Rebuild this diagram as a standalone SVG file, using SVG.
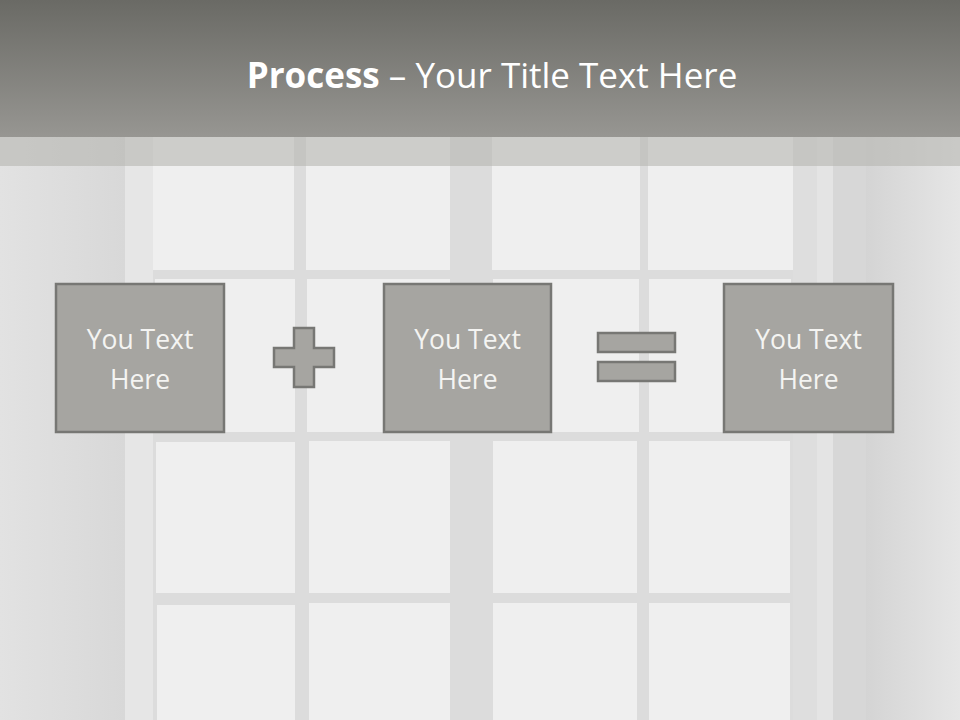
<svg xmlns="http://www.w3.org/2000/svg" width="960" height="720" viewBox="0 0 960 720">
<defs>
<linearGradient id="hdr" x1="0" y1="0" x2="0" y2="1">
<stop offset="0" stop-color="#6a6a65"/>
<stop offset="1" stop-color="#979692"/>
</linearGradient>
<linearGradient id="wallL" x1="0" y1="0" x2="1" y2="0">
<stop offset="0" stop-color="#e2e2e2"/>
<stop offset="1" stop-color="#d8d8d8"/>
</linearGradient>
<linearGradient id="wallR" x1="0" y1="0" x2="1" y2="0">
<stop offset="0" stop-color="#d4d4d4"/>
<stop offset="1" stop-color="#e6e6e6"/>
</linearGradient>
<style>
.pane{fill:#efefef}
.box{fill:#a6a5a1;stroke:#777774;stroke-width:2.5}
.lbl{font-family:"Open Sans","Liberation Sans",sans-serif;font-size:26.5px;fill:#f4f4f2;text-anchor:middle}
</style>
</defs>
<g id="background">
<rect x="0" y="0" width="960" height="720" fill="#dedede"/>
<rect x="0" y="0" width="125" height="720" fill="url(#wallL)"/>
<rect x="125" y="0" width="28" height="720" fill="#e6e6e6"/>
<rect x="817" y="0" width="16" height="720" fill="#e4e4e4"/>
<rect x="833" y="0" width="33" height="720" fill="#d7d7d7"/>
<rect x="866" y="0" width="94" height="720" fill="url(#wallR)"/>
<rect x="153" y="0" width="640" height="720" fill="#dcdcdc"/>
<g id="panes">
<rect class="pane" x="153" y="137" width="141" height="133"/>
<rect class="pane" x="306" y="137" width="144" height="133"/>
<rect class="pane" x="492" y="137" width="148" height="133"/>
<rect class="pane" x="648" y="137" width="145" height="133"/>
<rect class="pane" x="155" y="279" width="140" height="153"/>
<rect class="pane" x="307" y="279" width="143" height="153"/>
<rect class="pane" x="493" y="279" width="146" height="153"/>
<rect class="pane" x="649" y="279" width="142" height="153"/>
<rect class="pane" x="156" y="442" width="139" height="151"/>
<rect class="pane" x="309" y="441" width="141" height="152"/>
<rect class="pane" x="493" y="441" width="144" height="152"/>
<rect class="pane" x="649" y="441" width="141" height="152"/>
<rect class="pane" x="157" y="605" width="138" height="115"/>
<rect class="pane" x="309" y="603" width="141" height="117"/>
<rect class="pane" x="493" y="603" width="144" height="117"/>
<rect class="pane" x="649" y="603" width="141" height="117"/>
</g>
</g>
<g id="header">
<rect x="0" y="0" width="960" height="137" fill="url(#hdr)"/>
<rect x="0" y="137" width="960" height="29" fill="#b5b5b1" opacity="0.6"/>
<text x="492" y="88" text-anchor="middle" font-family="'Open Sans','Liberation Sans',sans-serif" font-size="35" fill="#ffffff"><tspan font-weight="bold">Process</tspan> – Your Title Text Here</text>
</g>
<g id="node1">
<rect class="box" x="56" y="284" width="168" height="148"/>
<text class="lbl" x="140" y="349">You Text</text>
<text class="lbl" x="140" y="389">Here</text>
</g>
<g id="plus">
<path d="M294,328 H314 V348 H334 V367 H314 V387 H294 V367 H274 V348 H294 Z" class="box"/>
</g>
<g id="node2">
<rect class="box" x="384" y="284" width="167" height="148"/>
<text class="lbl" x="467.5" y="349">You Text</text>
<text class="lbl" x="467.5" y="389">Here</text>
</g>
<g id="equals">
<rect class="box" x="598" y="333" width="77" height="19"/>
<rect class="box" x="598" y="362" width="77" height="19"/>
</g>
<g id="node3">
<rect class="box" x="724" y="284" width="169" height="148"/>
<text class="lbl" x="808.5" y="349">You Text</text>
<text class="lbl" x="808.5" y="389">Here</text>
</g>
<g id="connectors"/>
</svg>
